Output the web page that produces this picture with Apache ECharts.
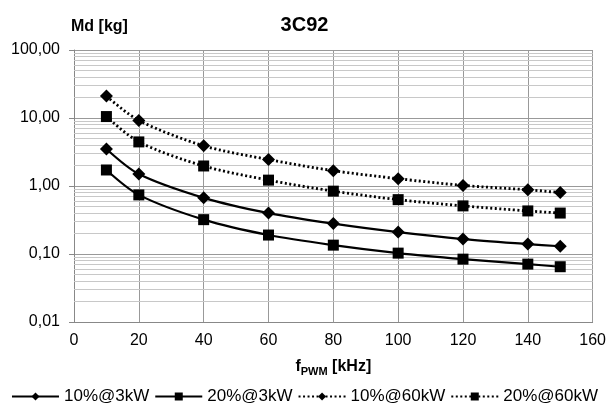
<!DOCTYPE html>
<html><head><meta charset="utf-8">
<script src="https://cdn.jsdelivr.net/npm/echarts@6/dist/echarts.min.js"></script>
<style>html,body{margin:0;padding:0;background:#fff}#c{width:609px;height:406px}</style>
</head><body><div id="c"></div>
<script>
var freqs = [10, 20, 40, 60, 80, 100, 120, 140, 150];
var s10at3kW  = [3.5, 1.5, 0.67, 0.40, 0.28, 0.21, 0.166, 0.14, 0.13];
var s20at3kW  = [1.72, 0.74, 0.32, 0.19, 0.135, 0.103, 0.084, 0.071, 0.065];
var s10at60kW = [21.0, 9.2, 3.9, 2.45, 1.68, 1.28, 1.02, 0.88, 0.80];
var s20at60kW = [10.5, 4.45, 1.97, 1.22, 0.84, 0.63, 0.51, 0.43, 0.40];
var seriesNames = ['10%@3kW', '20%@3kW', '10%@60kW', '20%@60kW'];
var minorGrid = [];
[0.01, 0.1, 1, 10].forEach(function(d){ for (var k = 2; k <= 9; k++) minorGrid.push(+(d*k).toPrecision(3)); });

function pts(arr){ return freqs.map(function(f,i){ return [f, arr[i]]; }); }
var font = 'Liberation Sans, Arial, sans-serif';
function mk(name, data, symbol, dotted, size){
  return {
    name: name, type: 'line', data: pts(data), smooth: 0.3,
    symbol: symbol, symbolSize: size,
    itemStyle: {color: '#000'},
    lineStyle: {color: '#000', width: dotted ? 2.8 : 2.2, type: dotted ? [2, 2.5] : 'solid'},
    z: 5
  };
}
var series = [
  mk(seriesNames[0], s10at3kW, 'diamond', false, 13),
  mk(seriesNames[1], s20at3kW, 'rect', false, 11),
  mk(seriesNames[2], s10at60kW, 'diamond', true, 13),
  mk(seriesNames[3], s20at60kW, 'rect', true, 11)
];
series.push({
  type: 'line', data: [], silent: true, z: 1,
  markLine: {silent: true, symbol: ['none','none'], label: {show: false},
    lineStyle: {color: '#c8c8c8', width: 1, type: 'solid'},
    data: minorGrid.map(function(v){ return {yAxis: v}; })}
});
var chart = echarts.init(document.getElementById('c'));
chart.setOption({
  animation: false,
  textStyle: {fontFamily: font},
  title: {text: '3C92', left: 'center', top: 10, textStyle: {fontFamily: font, fontSize: 20, fontWeight: 'bold', color: '#000'}},
  grid: {left: 74, right: 14, top: 50, bottom: 84},
  legend: {
    top: 388, left: 'center', itemWidth: 47, itemHeight: 10, itemGap: 5, padding: 0,
    data: seriesNames,
    textStyle: {fontFamily: font, fontSize: 17, color: '#000', padding: [0,0,0,0]}
  },
  xAxis: {
    type: 'value', min: 0, max: 160, interval: 20,
    name: '{b|f}{s|PWM}{b| [kHz]}', nameLocation: 'middle', nameGap: 35,
    nameTextStyle: {rich: {
      b: {fontFamily: font, fontSize: 16, fontWeight: 'bold', color: '#000'},
      s: {fontFamily: font, fontSize: 11, fontWeight: 'bold', color: '#000', verticalAlign: 'bottom', padding: [9,0,0,0]}
    }},
    axisLine: {show: true, lineStyle: {color: '#888'}},
    axisTick: {show: false},
    axisLabel: {fontFamily: font, fontSize: 16, color: '#000', margin: 11},
    splitLine: {show: true, lineStyle: {color: '#999', width: 1}}
  },
  yAxis: {
    type: 'log', logBase: 10, min: 0.01, max: 100,
    name: 'Md [kg]', nameLocation: 'end', nameGap: 15,
    nameTextStyle: {fontFamily: font, fontSize: 16, fontWeight: 'bold', color: '#000', align: 'left', padding: [0,0,0,-3]},
    axisLine: {show: true, lineStyle: {color: '#888'}},
    axisTick: {show: true, length: 5, lineStyle: {color: '#888'}},
    axisLabel: {fontFamily: font, fontSize: 16, color: '#000', margin: 14,
      formatter: function(v){ return v.toFixed(2).replace('.', ','); }},
    splitLine: {show: true, lineStyle: {color: '#999', width: 1}}
  },
  series: series
});
</script></body></html>
